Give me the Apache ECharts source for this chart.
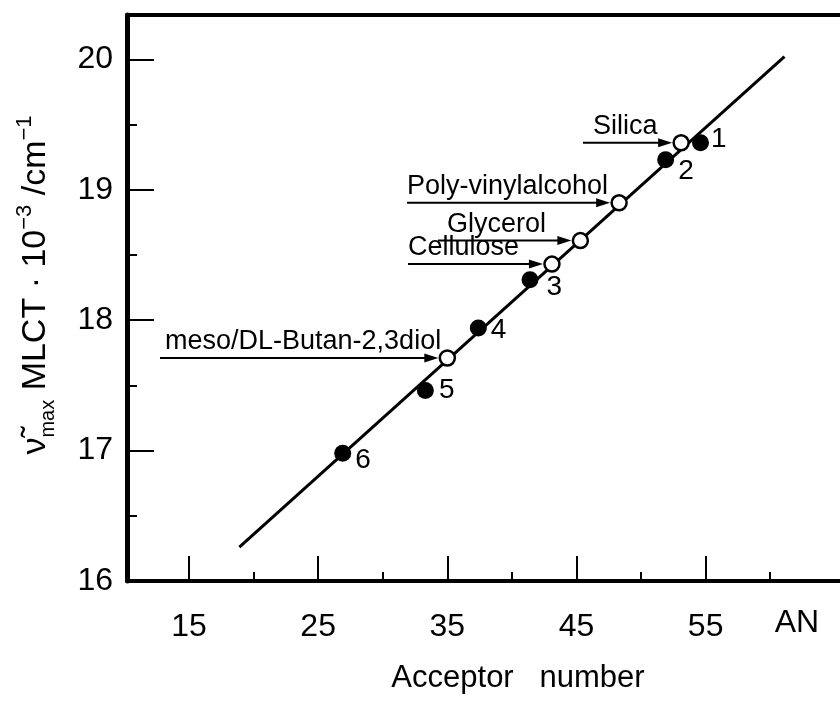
<!DOCTYPE html>
<html>
<head>
<meta charset="utf-8">
<script src="https://cdn.jsdelivr.net/npm/echarts@6/dist/echarts.min.js"></script>
<style>
  html, body { margin: 0; padding: 0; background: #fff; }
  #chart { width: 840px; height: 701px; }
</style>
</head>
<body>
<div id="chart"></div>
<script>
// numbered solvents (filled circles)
const solventLabels = ['1', '2', '3', '4', '5', '6'];
const solventAN = [54.6, 51.9, 41.4, 37.4, 33.3, 26.9];
const solventNu = [19.36, 19.23, 18.31, 17.94, 17.46, 16.98];

// matrices (open circles)
const matrixNames = ['Silica', 'Poly-vinylalcohol', 'Glycerol', 'Cellulose', 'meso/DL-Butan-2,3diol'];
const matrixAN = [53.1, 48.3, 45.3, 43.1, 35.0];
const matrixNu = [19.36, 18.90, 18.61, 18.43, 17.71];

// regression line end points
const fitAN = [18.9, 61.1];
const fitNu = [16.26, 20.02];

// axis ticks
const xTicks = [15, 25, 35, 45, 55];
const xMinorTicks = [20, 30, 40, 50, 60];
const yTicks = [16, 17, 18, 19, 20];
const yMinorTicks = [16.5, 17.5, 18.5, 19.5];

const FONT = '"Liberation Sans", Arial, sans-serif';
const X_MIN = 10.2, X_MAX = 65.4;
const Y_MIN = 16, Y_MAX = 20.34;

// label nudges for the numbers next to filled points
const numberOffsets = [[2, -4], [4, 12], [8, 8], [4, 2], [5, 0], [4, 7]];
// where the arrows / captions start (pixels)
const arrowStartX = [583, 407, 438, 408, 160];
const captionX = [593, 407, 447, 408, 165];

const chart = echarts.init(document.getElementById('chart'));

function xAxisBase(pos) {
  return {
    type: 'value', min: X_MIN, max: X_MAX, position: pos,
    axisLine: { show: false, onZero: false },
    axisTick: { show: false },
    axisLabel: { show: false },
    splitLine: { show: false }
  };
}
function yAxisBase() {
  return {
    type: 'value', min: Y_MIN, max: Y_MAX, position: 'left',
    axisLine: { show: false, onZero: false },
    axisTick: { show: false },
    axisLabel: { show: false },
    splitLine: { show: false }
  };
}

const xMain = xAxisBase('bottom');
xMain.axisLine = { show: true, onZero: false, lineStyle: { color: '#000', width: 4 } };
xMain.axisTick = { show: true, inside: true, length: 25, customValues: xTicks, lineStyle: { color: '#000', width: 2 } };
xMain.axisLabel = { show: true, customValues: xTicks, margin: 30, fontSize: 32, color: '#000', fontFamily: FONT };

const xMinor = xAxisBase('bottom');
xMinor.axisTick = { show: true, inside: true, length: 9, customValues: xMinorTicks, lineStyle: { color: '#000', width: 2 } };

const xTop = xAxisBase('top');
xTop.axisLine = { show: true, onZero: false, lineStyle: { color: '#000', width: 4 } };

const yMain = yAxisBase();
yMain.axisLine = { show: true, onZero: false, lineStyle: { color: '#000', width: 5 } };
yMain.axisTick = { show: true, inside: true, length: 27, customValues: yTicks, lineStyle: { color: '#000', width: 2 } };
yMain.axisLabel = { show: true, customValues: yTicks, margin: 14, fontSize: 32, color: '#000', fontFamily: FONT };

const yMinor = yAxisBase();
yMinor.axisTick = { show: true, inside: true, length: 10, customValues: yMinorTicks, lineStyle: { color: '#000', width: 2 } };

chart.setOption({
  animation: false,
  backgroundColor: '#fff',
  grid: { left: 127, right: 0, top: 15, bottom: 120 },
  xAxis: [xMain, xMinor, xTop],
  yAxis: [yMain, yMinor],
  series: [
    {
      type: 'line',
      data: fitAN.map((x, i) => [x, fitNu[i]]),
      symbol: 'none',
      lineStyle: { color: '#000', width: 3 },
      z: 1
    },
    {
      type: 'scatter',
      data: solventAN.map((x, i) => ({
        value: [x, solventNu[i]],
        label: { offset: numberOffsets[i] }
      })),
      symbolSize: 17,
      itemStyle: { color: '#000', opacity: 1 },
      label: {
        show: true,
        position: 'right',
        distance: 0,
        formatter: p => solventLabels[p.dataIndex],
        fontSize: 28,
        fontFamily: FONT,
        color: '#000',
        opacity: 1
      },
      z: 3
    },
    {
      type: 'scatter',
      data: matrixAN.map((x, i) => [x, matrixNu[i]]),
      symbolSize: 15,
      itemStyle: { color: '#fff', borderColor: '#000', borderWidth: 2.5, opacity: 1 },
      z: 4
    }
  ]
});

// arrows + captions pointing at the open circles
const graphics = [];
matrixAN.forEach((x, i) => {
  const pt = chart.convertToPixel({ xAxisIndex: 0, yAxisIndex: 0 }, [x, matrixNu[i]]);
  const tipX = pt[0] - 9;
  const y = pt[1];
  graphics.push({
    type: 'line',
    shape: { x1: arrowStartX[i], y1: y, x2: tipX - 10, y2: y },
    style: { stroke: '#000', lineWidth: 2 }
  });
  graphics.push({
    type: 'polygon',
    shape: { points: [[tipX, y], [tipX - 14, y - 4.5], [tipX - 14, y + 4.5]] },
    style: { fill: '#000' }
  });
  graphics.push({
    type: 'text',
    x: captionX[i],
    y: y - 3,
    style: {
      text: matrixNames[i],
      fontSize: 27,
      fontFamily: FONT,
      fill: '#000',
      align: 'left',
      verticalAlign: 'bottom'
    }
  });
});

// axis titles
graphics.push({
  type: 'text',
  x: 797, y: 623,
  style: { text: 'AN', fontSize: 32, fontFamily: FONT, fill: '#000', align: 'center', verticalAlign: 'middle' }
});
graphics.push({
  type: 'text',
  x: 518, y: 678,
  style: { text: 'Acceptor   number', fontSize: 31, fontFamily: FONT, fill: '#000', align: 'center', verticalAlign: 'middle' }
});
graphics.push({
  type: 'text',
  x: 36, y: 285,
  rotation: Math.PI / 2,
  style: {
    text: '{a|ν̃}{s|max}{a| MLCT · 10}{p|−3}{a| /cm}{p|−1}',
    align: 'center',
    verticalAlign: 'middle',
    fill: '#000',
    rich: {
      a: { fontSize: 34, fontFamily: FONT, fill: '#000', lineHeight: 44, verticalAlign: 'middle' },
      s: { fontSize: 20, fontFamily: FONT, fill: '#000', lineHeight: 44, verticalAlign: 'bottom' },
      p: { fontSize: 22, fontFamily: FONT, fill: '#000', lineHeight: 44, verticalAlign: 'top' }
    }
  }
});

chart.setOption({ graphic: graphics });
</script>
</body>
</html>
